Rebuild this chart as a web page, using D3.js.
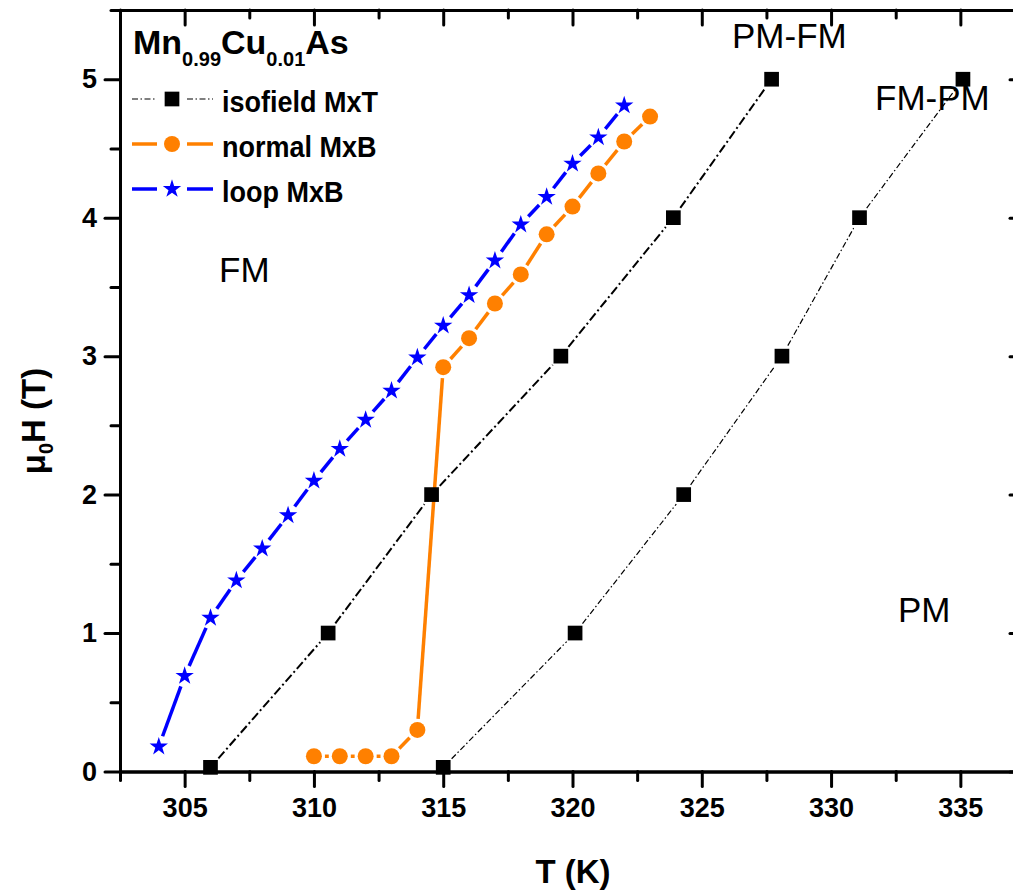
<!DOCTYPE html>
<html>
<head>
<meta charset="utf-8">
<script src="https://cdn.jsdelivr.net/npm/d3@7"></script>
<style>
  body { margin: 0; background: #fff; }
  text { font-family: "Liberation Sans", Arial, sans-serif; }
</style>
</head>
<body>
<svg id="chart" width="1013" height="896"></svg>
<script>
// data
// isofield MxT, cooling branch (PM-FM) and heating branch (FM-PM)
const coolT = [306.0, 310.55, 314.55, 319.55, 323.9, 327.7];
const coolH = [0.03, 1, 2, 3, 4, 5];
const heatT = [315.0, 320.1, 324.3, 328.1, 331.1, 335.1];
const heatH = [0.03, 1, 2, 3, 4, 5];

// normal MxB
const normalT = [310, 311, 312, 313, 314, 315, 316, 317, 318, 319, 320, 321, 322, 323];
const normalH = [0.11, 0.11, 0.11, 0.11, 0.30, 2.92, 3.13, 3.38, 3.59, 3.88, 4.08, 4.32, 4.55, 4.73];

// loop MxB
const loopT = [304, 305, 306, 307, 308, 309, 310, 311, 312, 313, 314, 315, 316, 317, 318, 319, 320, 321, 322];
const loopH = [0.18, 0.69, 1.11, 1.38, 1.61, 1.85, 2.10, 2.33, 2.54, 2.75, 2.99, 3.22, 3.44, 3.69, 3.95, 4.15, 4.39, 4.58, 4.81];

const xMajor = [305, 310, 315, 320, 325, 330, 335];
const xMinor = [302.5, 307.5, 312.5, 317.5, 322.5, 327.5, 332.5, 337.5];
const yMajor = [0, 1, 2, 3, 4, 5];
const yMinor = [0.5, 1.5, 2.5, 3.5, 4.5, 5.5];

const legendNames = ["isofield MxT", "normal MxB", "loop MxB"];
const regionLabels = ["FM", "PM-FM", "FM-PM", "PM"];

const svg = d3.select('#chart');
svg.append('rect').attr('width', 1013).attr('height', 896).attr('fill', '#fff');

const x = d3.scaleLinear().domain([302.5, 337.5]).range([120, 1025]);
const y = d3.scaleLinear().domain([0, 5.5]).range([771.5, 10]);

const ORANGE = '#ff8000', BLUE = '#0000ff';

// segments between neighbouring points, cut back near the symbols (Origin style gap)
function gapped(xs, ys, gap) {
    const segs = [];
    for (let i = 0; i < xs.length - 1; i++) {
        const x1 = x(xs[i]), y1 = y(ys[i]), x2 = x(xs[i + 1]), y2 = y(ys[i + 1]);
        const len = Math.hypot(x2 - x1, y2 - y1);
        if (len <= 2 * gap) continue;
        const ux = (x2 - x1) / len, uy = (y2 - y1) / len;
        segs.push([x1 + ux * gap, y1 + uy * gap, x2 - ux * gap, y2 - uy * gap]);
    }
    return segs;
}

function drawSegs(segs, color, width, dash) {
    svg.append('g').selectAll('line').data(segs).enter().append('line')
        .attr('x1', d => d[0]).attr('y1', d => d[1])
        .attr('x2', d => d[2]).attr('y2', d => d[3])
        .attr('stroke', color).attr('stroke-width', width)
        .attr('stroke-dasharray', dash || null);
}

// axes
function styleAxis(g) {
    g.selectAll('path.domain').attr('stroke', '#000').attr('stroke-width', 3);
    g.selectAll('.tick line').attr('stroke', '#000').attr('stroke-width', 3).attr('stroke-linecap', 'round');
    g.selectAll('.tick text').attr('fill', '#000').style('font-size', '27px').style('font-weight', 'bold')
        .style('font-family', '"Liberation Sans", Arial, sans-serif');
}

const axBottom = svg.append('g').attr('transform', 'translate(0,771.5)');
axBottom.append('g').call(d3.axisBottom(x).tickValues(xMinor).tickSize(9).tickSizeOuter(0).tickFormat('')).call(styleAxis);
axBottom.append('g').call(d3.axisBottom(x).tickValues(xMajor).tickSize(15).tickSizeOuter(0).tickPadding(11).tickFormat(d3.format('d'))).call(styleAxis);

const axTop = svg.append('g').attr('transform', 'translate(0,10)');
axTop.append('g').call(d3.axisTop(x).tickValues(xMinor).tickSize(-8).tickSizeOuter(0).tickFormat('')).call(styleAxis);
axTop.append('g').call(d3.axisTop(x).tickValues(xMajor).tickSize(-15).tickSizeOuter(0).tickFormat('')).call(styleAxis);

const axLeft = svg.append('g').attr('transform', 'translate(120,0)');
axLeft.append('g').call(d3.axisLeft(y).tickValues(yMinor).tickSize(9).tickSizeOuter(0).tickFormat('')).call(styleAxis);
axLeft.append('g').call(d3.axisLeft(y).tickValues(yMajor).tickSize(15).tickSizeOuter(0).tickPadding(8).tickFormat(d3.format('d'))).call(styleAxis);

const axRight = svg.append('g').attr('transform', 'translate(1025,0)');
axRight.append('g').call(d3.axisRight(y).tickValues(yMinor).tickSize(-8).tickSizeOuter(0).tickFormat('')).call(styleAxis);
axRight.append('g').call(d3.axisRight(y).tickValues(yMajor).tickSize(-15).tickSizeOuter(0).tickFormat('')).call(styleAxis);

// axis titles
svg.append('text').attr('x', 573).attr('y', 883).attr('text-anchor', 'middle')
    .style('font-size', '33px').style('font-weight', 'bold').text('T (K)');

const yt = svg.append('text').attr('transform', 'translate(45,421) rotate(-90)')
    .attr('text-anchor', 'middle').style('font-size', '33px').style('font-weight', 'bold');
yt.append('tspan').text('\u03bc');
yt.append('tspan').attr('dy', 8).style('font-size', '20px').text('0');
yt.append('tspan').attr('dy', -8).text('H (T)');

// lines
drawSegs(gapped(coolT, coolH, 12), '#000', 2, '9,3,2,3');
drawSegs(gapped(heatT, heatH, 12), '#000', 1.2, '6,2.5,1.5,2.5');
drawSegs(gapped(normalT, normalH, 11), ORANGE, 3.5);
drawSegs(gapped(loopT, loopH, 11), BLUE, 3.5);

// symbols
const sq = d3.symbol().type(d3.symbolSquare).size(216);
const star = d3.symbol().type(d3.symbolStar).size(105);

svg.append('g').selectAll('path').data(d3.zip(coolT.concat(heatT), coolH.concat(heatH))).enter()
    .append('path').attr('d', sq)
    .attr('transform', d => 'translate(' + x(d[0]) + ',' + y(d[1]) + ')').attr('fill', '#000');

svg.append('g').selectAll('circle').data(d3.zip(normalT, normalH)).enter()
    .append('circle').attr('cx', d => x(d[0])).attr('cy', d => y(d[1])).attr('r', 8).attr('fill', ORANGE);

svg.append('g').selectAll('path').data(d3.zip(loopT, loopH)).enter()
    .append('path').attr('d', star)
    .attr('transform', d => 'translate(' + x(d[0]) + ',' + y(d[1]) + ')').attr('fill', BLUE);

// title
const title = svg.append('text').attr('x', 133).attr('y', 54).style('font-size', '34px').style('font-weight', 'bold');
title.append('tspan').text('Mn');
title.append('tspan').attr('dy', 12).style('font-size', '20px').text('0.99');
title.append('tspan').attr('dy', -12).text('Cu');
title.append('tspan').attr('dy', 12).style('font-size', '20px').text('0.01');
title.append('tspan').attr('dy', -12).text('As');

// legend
const legY = [99, 144, 189];
const legColor = ['#000', ORANGE, BLUE];
const leg = svg.append('g');
legendNames.forEach((name, i) => {
    const g = leg.append('g').attr('transform', 'translate(0,' + legY[i] + ')');
    const w = i === 0 ? 1.2 : 3.5;
    const dash = i === 0 ? '6,2.5,1.5,2.5' : null;
    [[132, 157], [187, 213]].forEach(s => {
        g.append('line').attr('x1', s[0]).attr('x2', s[1]).attr('y1', 0).attr('y2', 0)
            .attr('stroke', legColor[i]).attr('stroke-width', w).attr('stroke-dasharray', dash);
    });
    if (i === 0) g.append('path').attr('d', sq).attr('transform', 'translate(172,0)').attr('fill', '#000');
    if (i === 1) g.append('circle').attr('cx', 172).attr('r', 8).attr('fill', ORANGE);
    if (i === 2) g.append('path').attr('d', star).attr('transform', 'translate(172,0)').attr('fill', BLUE);
    g.append('text').attr('transform', 'translate(222,12.5) scale(0.9,1)')
        .style('font-size', '30px').style('font-weight', 'bold').text(name);
});

// region labels
const regX = [219, 732, 875, 898];
const regY = [282, 48, 110, 622];
svg.append('g').selectAll('text').data(regionLabels).enter().append('text')
    .attr('x', (d, i) => regX[i]).attr('y', (d, i) => regY[i])
    .style('font-size', '35px').text(d => d);
</script>
</body>
</html>
